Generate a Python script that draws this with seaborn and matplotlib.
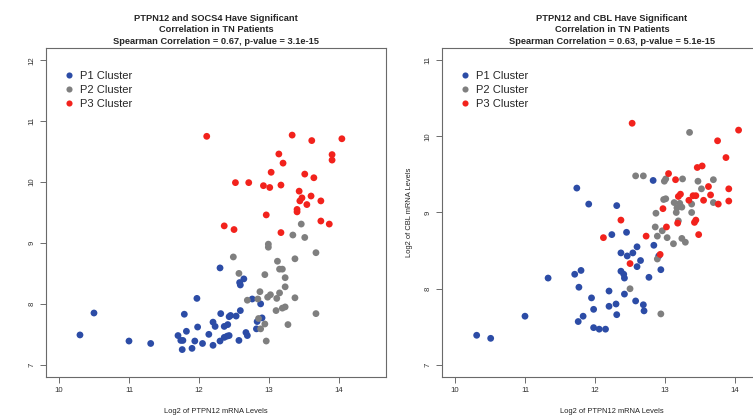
import pandas
import matplotlib
matplotlib.use('Agg')
import matplotlib.pyplot as plt
import seaborn as sns

# values
clusters = ['P1 Cluster', 'P2 Cluster', 'P3 Cluster']
cluster_colors = ['#2c4ca6', '#7f7f7f', '#f2221c']

# left panel: PTPN12 vs SOCS4
socs4_p1_x = [10.30, 10.50, 11.00, 11.31, 11.70, 11.74, 11.77, 11.76, 11.79, 11.82,
              11.90, 11.94, 11.98, 11.97, 12.05, 12.14, 12.20, 12.20, 12.23, 12.30,
              12.30, 12.31, 12.36, 12.36, 12.40, 12.43, 12.41, 12.43, 12.45, 12.53,
              12.59, 12.57, 12.58, 12.59, 12.64, 12.67, 12.69, 12.76, 12.82, 12.83,
              12.88, 12.90]
socs4_p1_y = [7.49, 7.85, 7.39, 7.35, 7.48, 7.40, 7.40, 7.25, 7.83, 7.55,
              7.27, 7.39, 7.62, 8.09, 7.35, 7.50, 7.32, 7.70, 7.63, 8.59,
              7.39, 7.84, 7.63, 7.45, 7.47, 7.48, 7.66, 7.79, 7.81, 7.80,
              7.89, 7.40, 8.35, 8.31, 8.41, 7.53, 7.48, 8.08, 7.59, 7.71,
              8.00, 7.77]
socs4_p2_x = [13.46, 13.34, 13.51, 12.99, 12.99, 12.49, 13.67, 13.37, 13.12, 13.15,
              13.19, 12.57, 12.94, 13.23, 13.23, 12.87, 13.15, 13.02, 12.98, 13.11,
              12.84, 12.69, 13.37, 13.23, 13.19, 13.10, 13.67, 12.85, 12.88, 12.94,
              13.27, 12.96]
socs4_p2_y = [9.31, 9.13, 9.09, 8.98, 8.93, 8.77, 8.84, 8.74, 8.70, 8.57,
              8.57, 8.50, 8.48, 8.43, 8.28, 8.20, 8.18, 8.15, 8.11, 8.09,
              8.08, 8.06, 8.10, 7.95, 7.93, 7.89, 7.84, 7.76, 7.59, 7.67,
              7.66, 7.39]
socs4_p3_x = [12.11, 13.33, 13.61, 14.04, 13.90, 13.90, 13.14, 13.20, 13.03, 13.51,
              13.64, 12.52, 12.71, 12.92, 13.01, 13.17, 13.43, 13.47, 13.44, 13.60,
              13.74, 13.54, 13.40, 13.40, 12.96, 12.36, 12.50, 13.74, 13.86, 13.17]
socs4_p3_y = [10.75, 10.77, 10.68, 10.71, 10.45, 10.36, 10.46, 10.31, 10.16, 10.13,
              10.07, 9.99, 9.99, 9.94, 9.91, 9.95, 9.85, 9.74, 9.69, 9.77,
              9.69, 9.63, 9.55, 9.51, 9.46, 9.28, 9.22, 9.36, 9.31, 9.17]

# right panel: PTPN12 vs CBL
cbl_p1_x = [11.74, 11.91, 12.31, 12.83, 12.24, 12.45, 12.84, 12.60, 12.54, 12.37,
            12.46, 12.65, 12.91, 12.37, 12.41, 12.42, 12.60, 12.94, 12.77, 11.71,
            11.80, 11.33, 11.77, 12.20, 12.42, 11.95, 12.30, 12.58, 12.69, 12.70,
            11.98, 12.20, 12.31, 11.83, 11.76, 11.98, 12.06, 12.15, 11.00, 10.31,
            10.51]
cbl_p1_y = [9.32, 9.11, 9.09, 9.42, 8.71, 8.74, 8.57, 8.55, 8.47, 8.47,
            8.43, 8.37, 8.43, 8.23, 8.19, 8.14, 8.29, 8.25, 8.15, 8.19,
            8.24, 8.14, 8.02, 7.97, 7.93, 7.88, 7.80, 7.84, 7.79, 7.71,
            7.73, 7.77, 7.66, 7.64, 7.57, 7.49, 7.47, 7.47, 7.64, 7.39,
            7.35]
cbl_p2_x = [13.35, 12.58, 12.69, 12.99, 13.01, 13.25, 13.47, 13.69, 13.52, 12.98,
            13.01, 13.13, 13.21, 13.24, 13.17, 13.38, 13.69, 13.16, 13.38, 12.87,
            13.19, 12.86, 12.96, 12.89, 13.03, 13.24, 13.12, 13.29, 12.89, 12.50,
            12.94]
cbl_p2_y = [10.05, 9.48, 9.48, 9.41, 9.44, 9.44, 9.41, 9.43, 9.31, 9.17,
            9.18, 9.13, 9.12, 9.07, 9.06, 9.11, 9.13, 9.00, 9.00, 8.99,
            8.89, 8.81, 8.76, 8.69, 8.67, 8.66, 8.59, 8.61, 8.39, 8.00,
            7.67]
cbl_p3_x = [12.53, 14.05, 13.75, 13.87, 13.46, 13.53, 13.05, 13.15, 13.62, 13.91,
            13.19, 13.22, 13.40, 13.44, 13.65, 13.34, 13.55, 13.76, 13.91, 12.97,
            12.37, 13.18, 13.42, 13.44, 13.02, 13.48, 12.12, 12.73, 12.93, 12.50]
cbl_p3_y = [10.17, 10.08, 9.94, 9.72, 9.59, 9.61, 9.51, 9.43, 9.34, 9.31,
            9.21, 9.24, 9.22, 9.22, 9.23, 9.16, 9.16, 9.11, 9.15, 9.05,
            8.90, 8.86, 8.87, 8.90, 8.81, 8.71, 8.67, 8.69, 8.45, 8.33]

left_title = 'PTPN12 and SOCS4 Have Significant\nCorrelation in TN Patients\nSpearman Correlation = 0.67, p-value = 3.1e-15'
right_title = 'PTPN12 and CBL Have Significant\nCorrelation in TN Patients\nSpearman Correlation = 0.63, p-value = 5.1e-15'
x_label = 'Log2 of PTPN12 mRNA Levels'
right_y_label = 'Log2 of CBL mRNA Levels'
x_ticks = [10, 11, 12, 13, 14]
left_y_ticks = [7, 8, 9, 10, 11, 12]
right_y_ticks = [7, 8, 9, 10, 11]


def make_frame(xs, ys):
    rows = []
    for name, x, y in zip(clusters, xs, ys):
        for a, b in zip(x, y):
            rows.append({'ptpn12': a, 'other': b, 'cluster': name})
    return pandas.DataFrame(rows)


socs4_df = make_frame([socs4_p1_x, socs4_p2_x, socs4_p3_x], [socs4_p1_y, socs4_p2_y, socs4_p3_y])
cbl_df = make_frame([cbl_p1_x, cbl_p2_x, cbl_p3_x], [cbl_p1_y, cbl_p2_y, cbl_p3_y])

sns.set_style('white')
plt.rcParams['font.family'] = ['Liberation Sans', 'DejaVu Sans']

fig = plt.figure(figsize=(7.53, 4.15), dpi=100)
ax1 = fig.add_axes([0.0611, 0.0916, 0.4515, 0.7928])
ax2 = fig.add_axes([0.587, 0.0916, 0.4515, 0.7928])

palette = dict(zip(clusters, cluster_colors))

for ax, df, title, yticks, ylim in [(ax1, socs4_df, left_title, left_y_ticks, (6.80, 12.20)),
                                    (ax2, cbl_df, right_title, right_y_ticks, (6.843, 11.157))]:
    sns.scatterplot(data=df, x='ptpn12', y='other', hue='cluster', hue_order=clusters,
                    palette=palette, s=24, linewidth=0, ax=ax)
    ax.set_xlim(9.815, 14.67)
    ax.set_ylim(*ylim)
    ax.set_xticks(x_ticks)
    ax.set_yticks(yticks)
    ax.tick_params(axis='both', direction='out', length=4, width=0.6, color='#555555',
                   labelsize=5.6, labelcolor='#333333', pad=3.5, bottom=True, left=True)
    plt.setp(ax.get_yticklabels(), rotation=90, va='center')
    for sp in ax.spines.values():
        sp.set_color('#6a6a6a')
        sp.set_linewidth(0.8)
    ax.set_title(title, fontsize=6.7, fontweight='bold', linespacing=1.35, pad=3)
    ax.set_xlabel(x_label, fontsize=5.4, color='#222222', labelpad=10)
    ax.set_ylabel('')
    handles, labels = ax.get_legend_handles_labels()
    ax.legend(handles, labels, loc='upper left', bbox_to_anchor=(0.045, 0.945), frameon=False,
              fontsize=8, handlelength=0.6, handletextpad=0.7, labelspacing=0.38,
              markerscale=0.9, borderaxespad=0)

ax2.set_ylabel(right_y_label, fontsize=5.4, color='#222222', labelpad=8)

fig.savefig('out.png', dpi=100)
